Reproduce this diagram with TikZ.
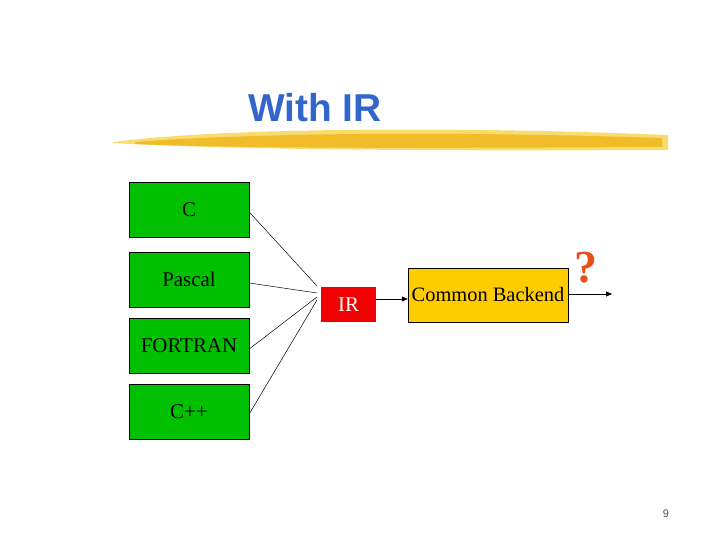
\documentclass[tikz,border=0pt]{standalone}
\usepackage{fontspec}
\setmainfont{Liberation Serif}
\newfontfamily\titlefont{Liberation Sans}
\usetikzlibrary{arrows.meta}
\definecolor{boxgreen}{HTML}{00C000}
\definecolor{irred}{HTML}{F00000}
\definecolor{cbyellow}{HTML}{FFCC00}
\definecolor{titleblue}{HTML}{3366CC}
\definecolor{brushA}{HTML}{F0BC2A}
\definecolor{brushB}{HTML}{F8DC70}
\definecolor{qcolor}{HTML}{E8501A}
\begin{document}
\begin{tikzpicture}[x=1bp,y=-1bp,
  langbox/.style={draw=black, fill=boxgreen, minimum width=120bp, minimum height=55bp, inner sep=0pt, font=\fontsize{21}{23}\selectfont},
  irbox/.style={fill=irred, text=white, minimum width=55bp, minimum height=35bp, inner sep=0pt, font=\fontsize{21}{23}\selectfont},
  cbbox/.style={draw=black, fill=cbyellow, minimum width=160bp, minimum height=54bp, inner sep=0pt, font=\fontsize{20.5}{23}\selectfont},
  link/.style={draw=black, line width=0.5pt},
  flow/.style={draw=black, line width=0.8pt, -{Triangle[length=6bp,width=5bp]}}]
\useasboundingbox (0,0) rectangle (720,540);
% title
\node[font=\titlefont\bfseries\fontsize{39}{42}\selectfont, text=titleblue] (title) at (315,108) {With IR};
% brush stroke
\fill[brushB] (113,142) .. controls (220,128) and (450,126) .. (668,135) -- (668,150) .. controls (450,151) and (230,150) .. (113,143) -- cycle;
\fill[brushA] (135,142) .. controls (250,133) and (450,131) .. (662,138) -- (662,147) .. controls (450,148) and (250,149) .. (135,144) -- cycle;
% language boxes
\node[langbox] (c) at (189,209.5) {C};
\node[langbox] (pascal) at (189,279.5) {Pascal};
\node[langbox] (fortran) at (189,345.5) {FORTRAN};
\node[langbox] (cpp) at (189,411.5) {C++};
% IR and backend
\node[irbox] (ir) at (348.5,304.5) {IR};
\node[cbbox] (cb) at (488,295) {Common Backend};
\coordinate (j1) at (317,286);
\coordinate (j2) at (317,293);
\coordinate (j3) at (317,297);
\coordinate (j4) at (317,300);
\coordinate (out) at (612,294);
\draw[link] (c.east |- 0,212) -- (j1);
\draw[link] (pascal.east |- 0,283) -- (j2);
\draw[link] (fortran.east |- 0,349) -- (j3);
\draw[link] (cpp.east |- 0,414) -- (j4);
\draw[flow] (ir.east |- 0,299) -- (cb.west |- 0,299);
\draw[flow] (cb.east |- 0,294) -- (out);
\node[font=\bfseries\fontsize{46}{48}\selectfont, text=qcolor] (q) at (586,268) {?};
\node[font=\titlefont\fontsize{11}{12}\selectfont, text=black!70] (pg) at (666,514) {9};
\end{tikzpicture}
\end{document}
